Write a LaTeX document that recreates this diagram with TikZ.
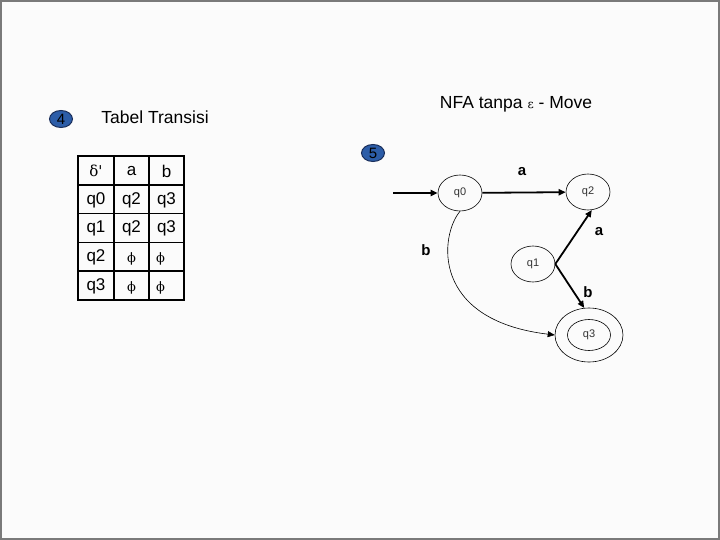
\documentclass[tikz,border=0pt]{standalone}
\usepackage{fontspec}
\setmainfont{Liberation Sans}
\newfontfamily\grk{DejaVu Serif}
\usetikzlibrary{shapes.geometric,arrows.meta}
\definecolor{badgeblue}{HTML}{2C5DA8}
\definecolor{badgeline}{HTML}{1A2E5A}
\definecolor{framegray}{HTML}{7A7A7A}
\tikzset{
  state/.style={draw=black,ellipse,line width=0.6pt,minimum width=44pt,minimum height=36pt,inner sep=0pt,font=\fontsize{11}{12}\selectfont,text=black!80},
  badge/.style={draw=badgeline,fill=badgeblue,ellipse,line width=1pt,minimum width=23pt,minimum height=17pt,inner sep=0pt,font=\fontsize{15}{16}\selectfont},
  title/.style={font=\fontsize{17.5}{20}\selectfont,anchor=center},
  cell/.style={font=\fontsize{17}{20}\selectfont,anchor=center},
  phicell/.style={font=\grk\fontsize{13}{15}\selectfont,anchor=center},
  elabel/.style={font=\bfseries\fontsize{15}{17}\selectfont,anchor=center},
  tr/.style={line width=1.8pt,-{Triangle[length=7pt,width=6pt]}},
  thin tr/.style={line width=0.6pt,-{Triangle[length=7pt,width=6pt]}},
  grid/.style={line width=1.8pt,black}
}
\begin{document}
\begin{tikzpicture}[x=1pt,y=-1pt]
\useasboundingbox (0,0) rectangle (720,540);
\fill[black!1.5] (0,0) rectangle (720,540);
\draw[framegray,line width=2pt] (1,1) rectangle (719,539);

% badges and titles
\node[badge] (b4) at (61,119) {4};
\node[title] (t4) at (155,117) {Tabel Transisi};
\node[badge] (b5) at (373,153) {5};
\node[title] (t5) at (516,104) {NFA tanpa {\grk\fontsize{12}{14}\selectfont ε} - Move};

% table
\draw[grid] (78,156) rectangle (184,300);
\foreach \x in {114,149} \draw[line width=1.2pt] (\x,156) -- (\x,300);
\foreach \y in {185,213.5,242.5,271} \draw[line width=1.2pt] (78,\y) -- (184,\y);
\node[cell,font=\grk\fontsize{15}{17}\selectfont] (h0) at (96,171) {δ'};
\node[cell] (h1) at (131.5,171) {a};
\node[cell] (h2) at (166.5,171) {b};
\node[cell] (r00) at (96,200) {q0};
\node[cell] (r01) at (131.5,200) {q2};
\node[cell] (r02) at (166.5,200) {q3};
\node[cell] (r10) at (96,228.5) {q1};
\node[cell] (r11) at (131.5,228.5) {q2};
\node[cell] (r12) at (166.5,228.5) {q3};
\node[cell] (r20) at (96,257) {q2};
\node[phicell] (r21) at (131.5,259) {ϕ};
\node[phicell] (r22) at (160.5,259) {ϕ};
\node[cell] (r30) at (96,286) {q3};
\node[phicell] (r31) at (131.5,288) {ϕ};
\node[phicell] (r32) at (160.5,288) {ϕ};

% automaton
\node[state] (q0) at (460,193) {q0};
\node[state] (q2) at (588,192) {q2};
\node[state] (q1) at (533,264) {q1};
\node[state,minimum width=43pt,minimum height=31pt] (q3) at (589,335) {q3};
\node[draw=black,ellipse,line width=0.6pt,minimum width=68pt,minimum height=54pt,inner sep=0pt] (q3o) at (589,335) {};
\coordinate (start) at (393,193);

\draw[tr] (start) -- (q0);
\draw[tr] (q0) -- (q2);
\draw[tr] (q1.east) -- (q2.-78);
\draw[tr] (q1.east) -- (q3o.100);
\draw[thin tr] (q0.south) .. controls (440,235) and (430,320) .. (q3o.west);

\node[elabel] (la1) at (522,172) {a};
\node[elabel] (la2) at (599,232) {a};
\node[elabel] (lb1) at (588,292) {b};
\node[elabel] (lb2) at (426,250) {b};
\end{tikzpicture}
\end{document}
